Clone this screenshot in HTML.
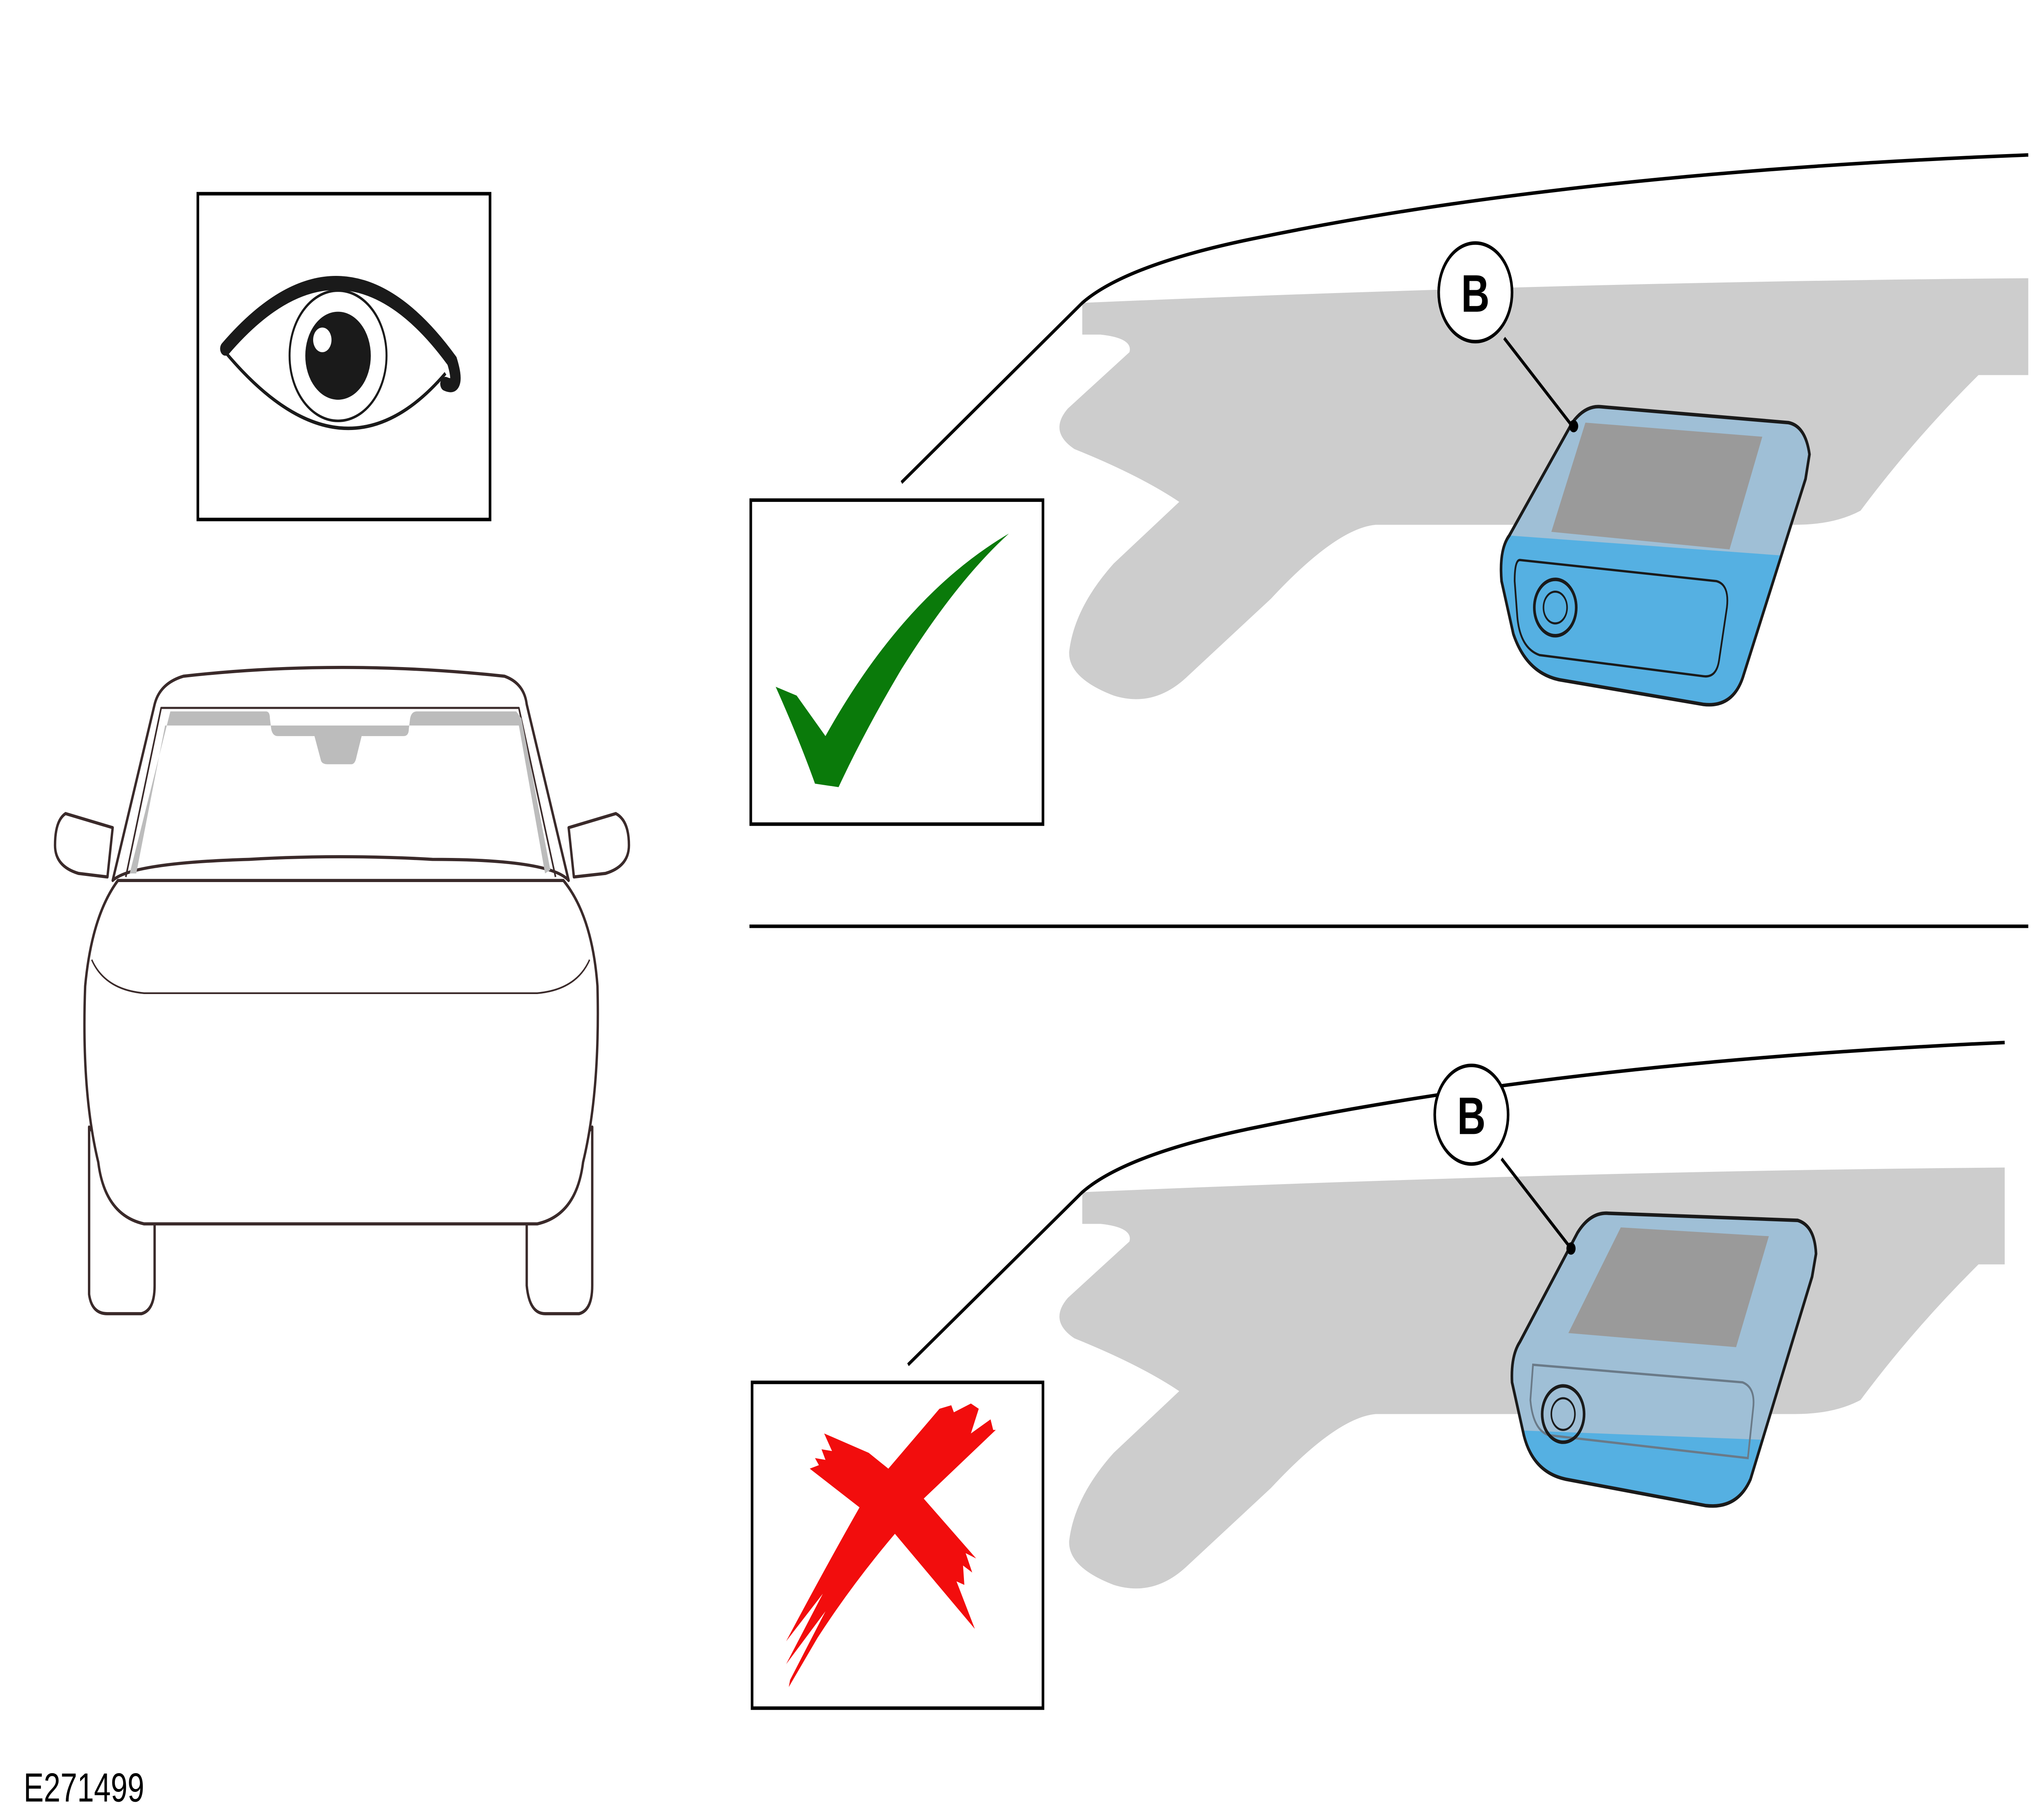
<!DOCTYPE html>
<html><head><meta charset="utf-8"><style>
html,body{margin:0;padding:0;background:#fff;overflow:hidden;width:100vw;height:100vh;}
svg{display:block;width:100vw;height:100vh;}
</style></head><body>
<svg viewBox="0 0 1560 1025" preserveAspectRatio="none" xmlns="http://www.w3.org/2000/svg">
<rect width="1560" height="1025" fill="#fff"/>
<rect x="151" y="110" width="223" height="185" fill="#fff" stroke="#000" stroke-width="2"/>
<path d="M172,198 Q262,120 345,205 Q352,222 340,218" fill="none" stroke="#1a1a1a" stroke-width="8" stroke-linecap="round"/>
<path d="M172,200 Q262,280 340,212" fill="none" stroke="#1a1a1a" stroke-width="2"/>
<circle cx="258" cy="202" r="37" fill="#fff" stroke="#1a1a1a" stroke-width="1.5"/>
<circle cx="258" cy="202" r="25" fill="#1a1a1a"/>
<circle cx="246" cy="193" r="7" fill="#fff"/>
<g fill="#fff" stroke="#3a2a2a" stroke-width="1.8" stroke-linejoin="round">
<path d="M68,640 L68,735 Q70,746 82,746 L108,746 Q118,744 118,730 L118,690 Z"/>
<path d="M402,690 L402,730 Q404,746 416,746 L442,746 Q452,744 452,730 L452,640 Z"/>
<path d="M90,500 Q70,520 65,560 Q62,620 75,660 Q80,690 110,695 L410,695 Q440,690 445,660 Q458,620 456,560 Q452,520 430,500 Z"/>
<path d="M86,500 L118,400 Q122,388 140,384 Q260,374 385,384 Q400,388 402,400 L434,500 Q420,488 330,488 Q260,485 190,488 Q100,490 86,500 Z"/>
<path d="M70,545 Q80,562 110,564 L410,564 Q440,562 450,545" fill="none" stroke-width="1"/>
<path d="M86,470 L50,462 Q42,466 42,480 Q42,492 60,496 L82,498 Z"/>
<path d="M434,470 L470,462 Q480,466 480,480 Q480,492 462,496 L438,498 Z"/>
<path d="M96,498 L123,402 L396,402 L424,498" fill="none" stroke-width="1.2"/>
</g>
<path d="M130,404 L203,404 Q206,404 206,408 L207,414 Q208,418 212,418 L240,418 L245,432 Q246,434 250,434 L268,434 Q271,434 272,430 L276,418 L308,418 Q312,418 312,414 L313,408 Q314,404 318,404 L394,404 L398,408 L420,494 L416,496 L396,412 L126,412 L104,496 L99,496 Z" fill="#bcbcbc"/>
<line x1="572" y1="526" x2="1548" y2="526" stroke="#000" stroke-width="2"/>
<path d="M826,172 Q1200,160 1548,158 L1548,213 L1510,213 Q1460,250 1420,290 Q1400,298 1370,298 L1050,298 Q1020,300 970,340 L905,385 Q880,402 850,395 Q815,385 816,370 Q820,345 850,320 L900,285 Q870,270 820,255 Q800,245 815,232 L862,200 Q865,192 840,190 L826,190 Z" fill="#cdcdcd"/>
<path d="M688,274 L826,172 Q860,150 960,135 Q1200,98 1548,88" fill="none" stroke="#000" stroke-width="2"/>
<defs>
<path id="cam1" d="M1200,240 Q1210,230 1222,231 L1365,240 Q1378,242 1381,258 L1378,272 L1330,385 Q1322,402 1300,400 L1190,386 Q1165,382 1155,360 L1146,330 Q1144,312 1152,304 Z"/>
<clipPath id="cc1"><use href="#cam1"/></clipPath>
</defs>
<use href="#cam1" fill="#55b0e2"/>
<g clip-path="url(#cc1)"><path d="M1100,200 L1500,200 L1500,310 Q1440,316 1370,316 L1150,304 L1100,304 Z" fill="#9fbfd6"/></g>
<use href="#cam1" fill="none" stroke="#1a1a1a" stroke-width="2"/>
<polygon points="1210,240 1345,248 1320,312 1184,302" fill="#9a9a9a"/>
<path d="M1160,318 L1310,330 Q1320,332 1318,345 L1312,375 Q1310,385 1300,384 L1175,372 Q1160,368 1158,350 L1156,330 Q1156,318 1160,318 Z" fill="none" stroke="#1a1a1a" stroke-width="1.3"/>
<circle cx="1187" cy="345" r="16" fill="none" stroke="#1a1a1a" stroke-width="2"/>
<circle cx="1187" cy="345" r="9" fill="none" stroke="#1a1a1a" stroke-width="1.2"/>
<line x1="1148" y1="192" x2="1200" y2="242" stroke="#000" stroke-width="2"/>
<circle cx="1201" cy="242" r="3.5" fill="#000"/>
<circle cx="1126" cy="166" r="28" fill="#fff" stroke="#000" stroke-width="2"/>
<text x="1126" y="177" text-anchor="middle" font-family="Liberation Sans, sans-serif" font-weight="bold" font-size="30">B</text>
<rect x="573" y="284" width="223" height="184" fill="#fff" stroke="#000" stroke-width="2"/>
<path d="M592,390 L608,395 L630,418 Q690,338 770,303 Q730,330 688,380 Q660,415 640,447 L622,445 Q610,420 592,390 Z" fill="#0a7a0a"/>
<g transform="translate(0,505)">
<path d="M826,172 Q1200,160 1530,158 L1530,213 L1510,213 Q1460,250 1420,290 Q1400,298 1370,298 L1050,298 Q1020,300 970,340 L905,385 Q880,402 850,395 Q815,385 816,370 Q820,345 850,320 L900,285 Q870,270 820,255 Q800,245 815,232 L862,200 Q865,192 840,190 L826,190 Z" fill="#cdcdcd"/>
<path d="M693,270 L826,172 Q860,150 960,135 Q1200,98 1530,87" fill="none" stroke="#000" stroke-width="2"/>
</g>
<defs>
<path id="cam2" d="M1204,700 Q1214,688 1228,689 L1372,693 Q1385,696 1386,712 L1383,725 L1336,840 Q1326,857 1302,855 L1195,840 Q1170,836 1163,815 L1154,785 Q1153,770 1160,762 Z"/>
<clipPath id="cc2"><use href="#cam2"/></clipPath>
</defs>
<use href="#cam2" fill="#55b0e2"/>
<g clip-path="url(#cc2)"><path d="M1100,650 L1500,650 L1500,822 L1150,812 Z" fill="#9fbfd6"/></g>
<use href="#cam2" fill="none" stroke="#1a1a1a" stroke-width="2"/>
<polygon points="1237,697 1350,702 1325,765 1197,757" fill="#9a9a9a"/>
<path d="M1170,775 L1330,785 Q1340,788 1338,800 L1334,828 L1182,815 Q1170,812 1168,795 Z" fill="none" stroke="#6a7a88" stroke-width="1.3"/>
<circle cx="1193" cy="803" r="16" fill="none" stroke="#1a1a1a" stroke-width="2"/>
<circle cx="1193" cy="803" r="9" fill="none" stroke="#1a1a1a" stroke-width="1.2"/>
<line x1="1146" y1="658" x2="1198" y2="708" stroke="#000" stroke-width="2"/>
<circle cx="1199" cy="709" r="3.5" fill="#000"/>
<circle cx="1123" cy="633" r="28" fill="#fff" stroke="#000" stroke-width="2"/>
<text x="1123" y="644" text-anchor="middle" font-family="Liberation Sans, sans-serif" font-weight="bold" font-size="30">B</text>
<rect x="574" y="785" width="222" height="185" fill="#fff" stroke="#000" stroke-width="2"/>
<path d="M618,834 L625,832 L622,828 L630,829 L627,823 L635,824 L629,814 L663,825 L678,834 L717,800 L726,798 L728,802 L741,797 L747,800 L741,814 L756,806 L758,812 L760,812 L705,851 L745,885 L737,882 L742,893 L735,889 L736,900 L730,898 L744,925 L683,871 Q650,900 624,930 L602,958 L603,954 L630,915 L600,945 L628,905 L600,932 Q630,890 656,856 Z" fill="#f20d0d"/>
<text x="18" y="1023" font-family="Liberation Sans, sans-serif" font-size="23" fill="#000">E271499</text>
</svg>
</body></html>
